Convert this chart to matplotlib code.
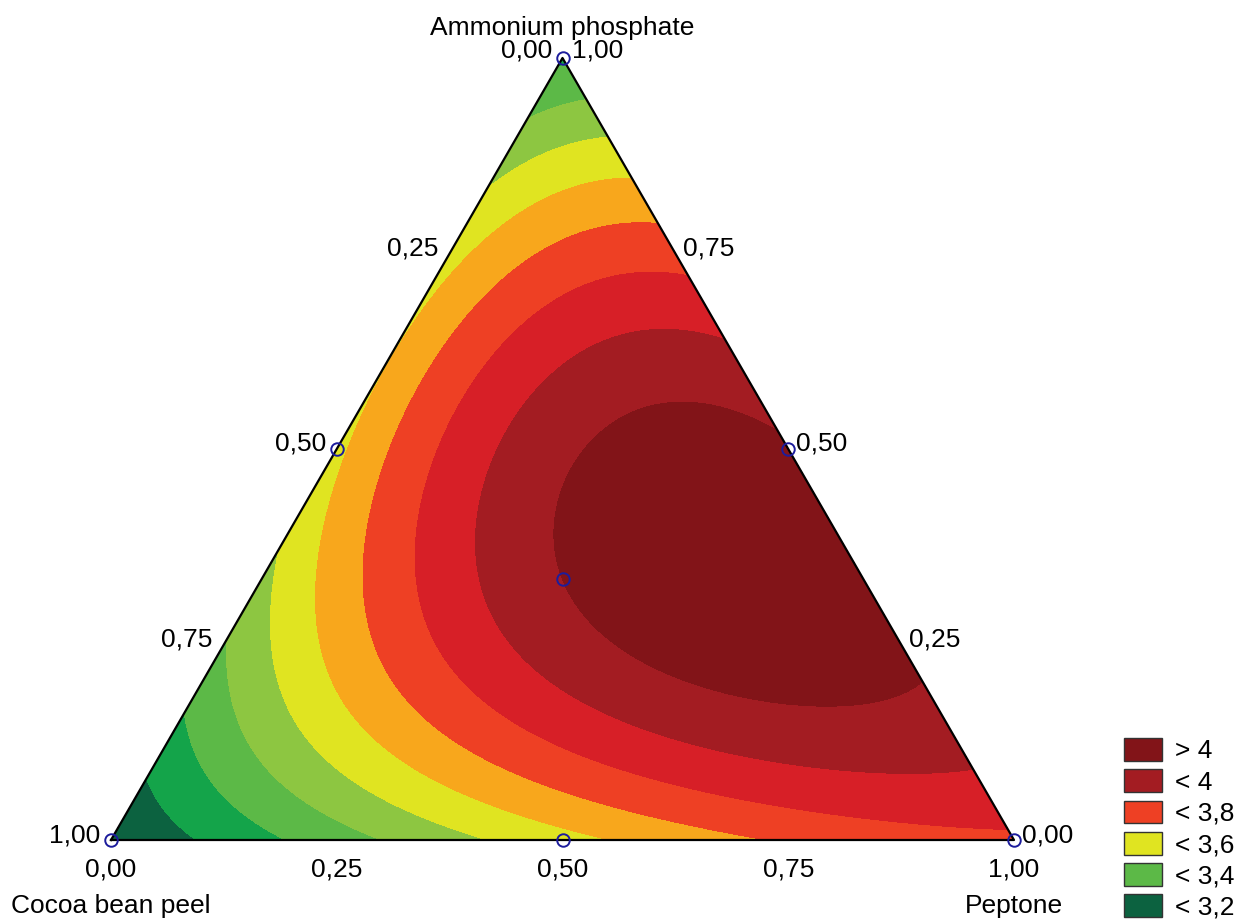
import numpy as np
import matplotlib.pyplot as plt
from matplotlib.tri import Triangulation
from matplotlib.patches import Patch

plt.rcParams['font.family'] = ['Liberation Sans', 'DejaVu Sans']

# mixture points (fractions) and response
cocoa = [1, 0, 0, 2/3, 1/3, 2/3, 1/3, 0, 0, 1/3]
ammonium = [0, 1, 0, 1/3, 2/3, 0, 0, 1/3, 2/3, 1/3]
peptone = [0, 0, 1, 0, 0, 1/3, 2/3, 2/3, 1/3, 1/3]
response = [3.10, 3.28, 3.78, 3.47, 3.59, 3.43, 3.67, 4.05, 3.87, 4.00]

# experimental points marked on the plot
exp_cocoa = [1, 0, 0, 0.5, 0.5, 0, 1/3]
exp_ammonium = [0, 1, 0, 0.5, 0, 0.5, 1/3]
exp_peptone = [0, 0, 1, 0, 0.5, 0.5, 1/3]

levels = [3.2, 3.3, 3.4, 3.5, 3.6, 3.7, 3.8, 3.9, 4.0]
band_colors = ['#0c6240', '#14a44a', '#5cb947', '#8dc641', '#e0e421',
               '#f8a71c', '#ee4024', '#d71f27', '#a31c22', '#821418']
legend_labels = ['> 4', '< 4', '< 3,8', '< 3,6', '< 3,4', '< 3,2']
legend_colors = ['#821418', '#a31c22', '#ee4024', '#e0e421', '#5cb947', '#0c6240']
tick_values = [0, 0.25, 0.5, 0.75, 1.0]


def terms(c, a, p):
    c, a, p = np.asarray(c, float), np.asarray(a, float), np.asarray(p, float)
    return np.column_stack([c, a, p, c * a, c * p, a * p,
                            c * a * (c - a), c * p * (c - p), a * p * (a - p), c * a * p])


def to_xy(a, p):
    a, p = np.asarray(a, float), np.asarray(p, float)
    return p + a / 2, a * np.sqrt(3) / 2


# full cubic mixture model
coef = np.linalg.lstsq(terms(cocoa, ammonium, peptone), np.array(response), rcond=None)[0]

n = 160
aa, pp = [], []
for i in range(n + 1):
    for j in range(n + 1 - i):
        aa.append(i / n)
        pp.append(j / n)
aa = np.array(aa)
pp = np.array(pp)
cc = 1 - aa - pp
zz = terms(cc, aa, pp) @ coef
gx, gy = to_xy(aa, pp)

fig = plt.figure(figsize=(12.45, 9.19), dpi=100)
ax = fig.add_axes([0, 0, 1, 1])
h = np.sqrt(3) / 2

tri = Triangulation(gx, gy)
bounds = [min(zz.min(), 3.0) - 0.1] + levels + [max(zz.max(), 4.1) + 0.1]
ax.tricontourf(tri, zz, levels=bounds, colors=band_colors, antialiased=False)

ax.plot([0, 1, 0.5, 0], [0, 0, h, 0], color='black', lw=1.6, zorder=3)

ex, ey = to_xy(exp_ammonium, exp_peptone)
ax.plot(ex, ey, 'o', ms=9, mfc='none', mec='#1c1c9c', mew=1.4, zorder=4, clip_on=False)

fs = 19
d = 1 / 903
for v in tick_values:
    # bottom axis: peptone
    x, y = to_xy(0, v)
    ax.text(x, y - 29 * d, f'{v:.2f}'.replace('.', ','), ha='center', va='center', fontsize=fs)
    # left axis: cocoa bean peel
    x, y = to_xy(1 - v, 0)
    if v > 0:
        ax.text(x - 11 * d, y + 5 * d, f'{v:.2f}'.replace('.', ','), ha='right', va='center', fontsize=fs)
    # right axis: ammonium phosphate
    x, y = to_xy(v, 1 - v)
    if v < 1:
        ax.text(x + 8 * d, y + 5 * d, f'{v:.2f}'.replace('.', ','), ha='left', va='center', fontsize=fs)

x, y = to_xy(1, 0)
ax.text(x - 10 * d, y + 7 * d, '0,00', ha='right', va='center', fontsize=fs)
ax.text(x + 10 * d, y + 7 * d, '1,00', ha='left', va='center', fontsize=fs)
ax.text(x, y + 30 * d, 'Ammonium phosphate', ha='center', va='center', fontsize=fs)
ax.text(0, -66 * d, 'Cocoa bean peel', ha='center', va='center', fontsize=fs)
ax.text(1, -66 * d, 'Peptone', ha='center', va='center', fontsize=fs)

handles = [Patch(facecolor=c, edgecolor='#333333', lw=1) for c in legend_colors]
ax.legend(handles, legend_labels, loc='upper left', bbox_to_anchor=(1124 / 1245, 1 - 738 / 919),
          frameon=False, fontsize=fs, handlelength=1.45, handleheight=0.95,
          labelspacing=0.22, handletextpad=0.5, borderaxespad=0, borderpad=0)

ax.set_xlim(-111 / 903, (1245 - 111) / 903)
ax.set_ylim((840 - 919) / 903, 840 / 903)
ax.axis('off')

fig.savefig('out.png', dpi=100)
